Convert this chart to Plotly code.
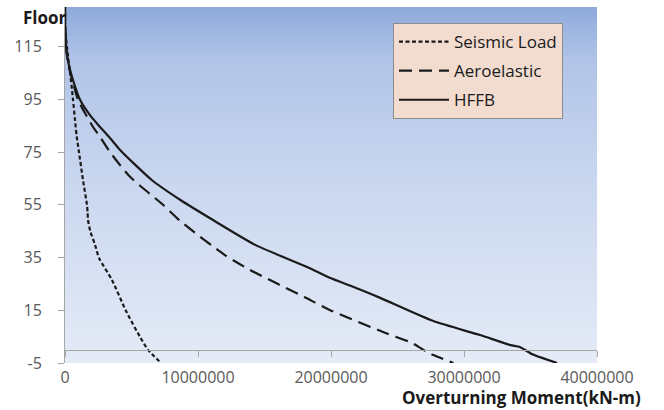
import base64
import plotly.graph_objects as go

# ---------------- data ----------------
seismic_floor = [130, 121.4, 112.5, 105, 99.9, 95, 87.2, 80.9, 75, 64.5, 55, 52, 49.3, 45, 39.8,
                 34.8, 26.5, 14.7, 4.9, 0, -5]
seismic_moment = [0, 0.02e6, 0.2e6, 0.38e6, 0.5e6, 0.6e6, 0.75e6, 0.88e6, 1.05e6, 1.35e6, 1.65e6,
                  1.7e6, 1.73e6, 1.9e6, 2.26e6, 2.56e6, 3.53e6, 4.59e6, 5.64e6, 6.24e6, 7.22e6]

aero_floor = [130, 121.4, 112.5, 106.2, 102.4, 94.8, 84.6, 80.8, 75, 65.6, 55, 48.9, 36, 30.3, 20,
              15.1, 6.4, 2.6, -0.8, -2, -5]
aero_moment = [0, 0.02e6, 0.13e6, 0.34e6, 0.55e6, 0.98e6, 2.1e6, 2.63e6, 3.38e6, 4.89e6, 7.37e6,
               8.65e6, 12.0e6, 13.9e6, 18.0e6, 19.9e6, 24.1e6, 26.1e6, 27.2e6, 27.7e6, 29.2e6]

hffb_floor = [130, 121.4, 112.5, 106.2, 99.9, 94.8, 88.5, 84.7, 80.3, 75.8, 64.5, 56.9, 49.3, 39.8,
              31.4, 27.3, 23.8, 19.7, 10.9, 5.6, 1.8, 1.1, -1.6, -5]
hffb_moment = [0, 0.02e6, 0.13e6, 0.38e6, 0.75e6, 1.13e6, 1.95e6, 2.6e6, 3.38e6, 4.14e6, 6.5e6,
               8.65e6, 11.1e6, 14.3e6, 18.2e6, 19.9e6, 21.7e6, 23.7e6, 27.7e6, 31.2e6, 33.5e6,
               34.2e6, 35.1e6, 37.0e6]

series_names = ["Seismic Load", "Aeroelastic", "HFFB"]

x_range = [0, 40000000]
y_range = [-5, 130]
x_dtick = 10000000
y_tickvals = [-5, 15, 35, 55, 75, 95, 115]
y_ticktext = [str(v) for v in y_tickvals]

# ---------------- figure ----------------
FONT = "Open Sans, Noto Sans, sans-serif"
LINE = "#1a1a1a"
W, H = 664, 410

fig = go.Figure()

dashes = ["4px,2.5px", "13px,7px", "solid"]
data = [(seismic_moment, seismic_floor), (aero_moment, aero_floor), (hffb_moment, hffb_floor)]
for i, (name, (xm, yf)) in enumerate(zip(series_names, data)):
    fig.add_trace(go.Scatter(
        x=xm, y=yf, mode="lines", name=name, legendgroup=name,
        line=dict(color=LINE, width=2.2, dash=dashes[i], shape="spline", smoothing=0.6),
        hoverinfo="skip",
    ))

# empty trace on the overlay axis that carries the tick marks along y = 0
fig.add_trace(go.Scatter(x=[], y=[], xaxis="x2", yaxis="y", showlegend=False, hoverinfo="skip"))

# gradient background for the plot area
svg = ('<svg xmlns="http://www.w3.org/2000/svg" width="10" height="100" viewBox="0 0 10 100" '
       'preserveAspectRatio="none"><defs><linearGradient id="g" x1="0" y1="0" x2="0" y2="1">'
       '<stop offset="0" stop-color="#8eaadb"/><stop offset="0.15" stop-color="#b1c4e8"/>'
       '<stop offset="0.5" stop-color="#cad7ef"/><stop offset="1" stop-color="#e5ebf7"/>'
       '</linearGradient></defs><rect width="10" height="100" fill="url(#g)"/></svg>')
src = "data:image/svg+xml;base64," + base64.b64encode(svg.encode()).decode()
fig.add_layout_image(dict(source=src, xref="paper", yref="paper", x=0, y=1, sizex=1, sizey=1,
                          xanchor="left", yanchor="top", sizing="stretch", layer="below"))

zero_pos = (0 - y_range[0]) / (y_range[1] - y_range[0])

fig.update_layout(
    width=W, height=H,
    margin=dict(l=65, r=67, t=7, b=47),
    paper_bgcolor="white",
    plot_bgcolor="rgba(0,0,0,0)",
    font=dict(family=FONT, size=16, color="#595959"),
    title=dict(
        text="<b>Floor</b>", xref="container", yref="container",
        x=23 / W, xanchor="left", y=1 - 18 / H, yanchor="middle",
        font=dict(family=FONT, size=17, color="#1a1a1a"),
    ),
    showlegend=True,
    legend=dict(
        x=0.6165, y=0.955, xanchor="left", yanchor="top",
        bgcolor="#f2dcd0", bordercolor="#8c8c8c", borderwidth=1,
        font=dict(family=FONT, size=17, color="#1a1a1a"),
        tracegroupgap=4, itemwidth=50,
    ),
    xaxis=dict(
        range=x_range, dtick=x_dtick, tick0=0, showgrid=False, zeroline=False,
        showline=False, ticks="outside", ticklen=0, tickcolor="rgba(0,0,0,0)",
        tickformat="d", tickfont=dict(size=16, color="#595959"),
    ),
    xaxis2=dict(
        overlaying="x", matches="x", anchor="free", position=zero_pos,
        showgrid=False, zeroline=False, showline=True, linecolor="#a6a6a6", linewidth=1,
        ticks="outside", ticklen=6, tickcolor="#a6a6a6", dtick=x_dtick, tick0=0,
        showticklabels=False,
    ),
    yaxis=dict(
        range=y_range, tickmode="array", tickvals=y_tickvals, ticktext=y_ticktext,
        showgrid=False, zeroline=False,
        showline=True, linecolor="#a6a6a6", linewidth=1,
        ticks="outside", ticklen=6, tickcolor="#a6a6a6", ticklabelstandoff=13,
        tickfont=dict(size=16, color="#595959"),
    ),
    annotations=[
        dict(text="<b>Overturning Moment(kN-m)</b>", xref="paper", yref="paper", x=1, y=0,
             xanchor="right", yanchor="middle", xshift=46, yshift=-34, showarrow=False,
             font=dict(family=FONT, size=17, color="#1a1a1a")),
    ],
)

fig.write_html("out.html")
